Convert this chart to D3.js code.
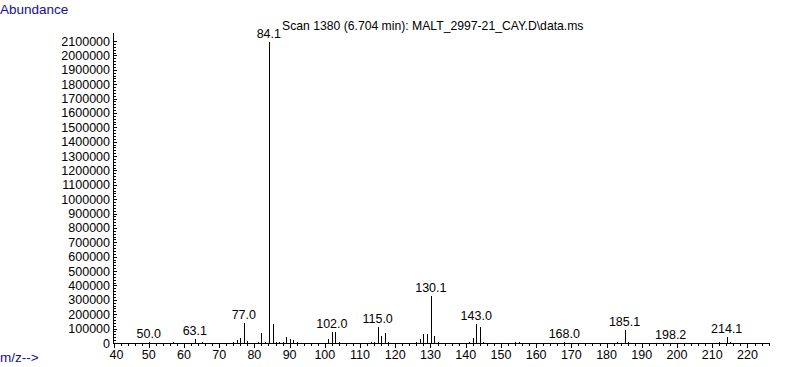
<!DOCTYPE html>
<html>
<head>
<meta charset="utf-8">
<script src="https://cdn.jsdelivr.net/npm/d3@7"></script>
<style>
  body { margin: 0; background: #fff; }
  text { font-family: "Liberation Sans", Arial, sans-serif; }
</style>
</head>
<body>
<div id="chart"></div>
<script>
// spectrum data (m/z, abundance)
var mzValues = [45, 50.0, 51, 55, 57, 63.1, 65, 74, 75, 76, 77.0, 78, 81, 82, 83, 84.1, 85.2, 86, 87, 88, 89, 90, 91, 92,
                96, 101, 102.0, 103, 104, 113, 114, 115.0, 116, 117, 118, 126, 127, 128, 129, 130.1, 131, 132,
                141, 142, 143.0, 144, 145, 154, 155, 168.0, 170, 183, 185.1, 186, 198.2, 212, 214.1, 215];
var abundance = [3000, 4000, 3000, 3000, 4000, 25000, 8000, 5000, 20000, 35000, 137000, 15000, 8000, 72000, 8000, 2090000, 132000, 6000, 5000, 8000, 44000, 28000, 20000, 6000,
                 3000, 25000, 76000, 76000, 6000, 10000, 8000, 108000, 48000, 67000, 6000, 5000, 26000, 62000, 62000, 330000, 48000, 5000,
                 10000, 33000, 132000, 113000, 8000, 4000, 4000, 4000, 3000, 6000, 90000, 8000, 3000, 4000, 42000, 5000];
var peakLabels = ["50.0", "63.1", "77.0", "84.1", "102.0", "115.0", "130.1", "143.0", "168.0", "185.1", "198.2", "214.1"];

var yTicks = d3.range(0, 2100001, 100000);
var xTicks = d3.range(40, 221, 10);

var svg = d3.select("#chart")
            .append("svg")
            .attr("width", 787)
            .attr("height", 367);

var x = d3.scaleLinear().domain([40, 226.4]).range([113.5, 770]),
    y = d3.scaleLinear().domain([0, 2100000]).range([343, 41]);

function px(v) { return Math.round(x(v)) + 0.5; }
function py(v) { return Math.round(y(v)) + 0.5; }

// labels in blue
svg.append("text").attr("x", 0).attr("y", 14)
   .style("font-size", "13.5px").attr("fill", "#10109a").text("Abundance");
svg.append("text").attr("x", 0).attr("y", 362)
   .style("font-size", "13.5px").attr("fill", "#10109a").text("m/z-->");

// title
svg.append("text").attr("x", 282).attr("y", 30)
   .style("font-size", "12.2px").attr("fill", "#000").text("Scan 1380 (6.704 min): MALT_2997-21_CAY.D\\data.ms");

// y axis
var g = svg.append("g").attr("stroke", "#000").attr("stroke-width", 1).attr("shape-rendering", "crispEdges");
g.append("line").attr("x1", 113.5).attr("x2", 113.5).attr("y1", 33).attr("y2", 344);
g.selectAll(".ymin").data(d3.range(0, 2100001, 20000)).enter().append("line")
  .attr("x1", 113.5).attr("x2", 116)
  .attr("y1", function(d) { return py(d); }).attr("y2", function(d) { return py(d); });
g.selectAll(".ymaj").data(yTicks).enter().append("line")
  .attr("x1", 113.5).attr("x2", 117)
  .attr("y1", function(d) { return py(d); }).attr("y2", function(d) { return py(d); });

svg.selectAll(".ylab").data(yTicks).enter().append("text")
  .attr("x", 110).attr("y", function(d) { return y(d) + 4.5; })
  .attr("text-anchor", "end").style("font-size", "12.5px")
  .text(function(d) { return d; });

// x axis
g.append("line").attr("x1", 113).attr("x2", 770).attr("y1", 343.5).attr("y2", 343.5);
g.selectAll(".xmin").data(d3.range(40, 227, 2)).enter().append("line")
  .attr("x1", function(d) { return px(d); }).attr("x2", function(d) { return px(d); })
  .attr("y1", 343.5).attr("y2", 346);
g.selectAll(".xmaj").data(xTicks).enter().append("line")
  .attr("x1", function(d) { return px(d); }).attr("x2", function(d) { return px(d); })
  .attr("y1", 343.5).attr("y2", 348);

svg.selectAll(".xlab").data(xTicks).enter().append("text")
  .attr("x", function(d) { return d == 40 ? x(d) + 3 : x(d); }).attr("y", 359)
  .attr("text-anchor", "middle").style("font-size", "12.5px")
  .text(function(d) { return d; });

// spectrum lines
g.selectAll(".peak").data(mzValues).enter().append("line")
  .attr("x1", function(d) { return px(d); }).attr("x2", function(d) { return px(d); })
  .attr("y1", 343.5).attr("y2", function(d, i) { return Math.round(y(abundance[i])); });

// peak labels
svg.selectAll(".plab").data(peakLabels).enter().append("text")
  .attr("x", function(d) { return x(+d); })
  .attr("y", function(d) {
    var i = mzValues.indexOf(+d);
    return y(abundance[i]) - 4;
  })
  .attr("text-anchor", "middle").style("font-size", "12.5px")
  .text(function(d) { return d; });
</script>
</body>
</html>
